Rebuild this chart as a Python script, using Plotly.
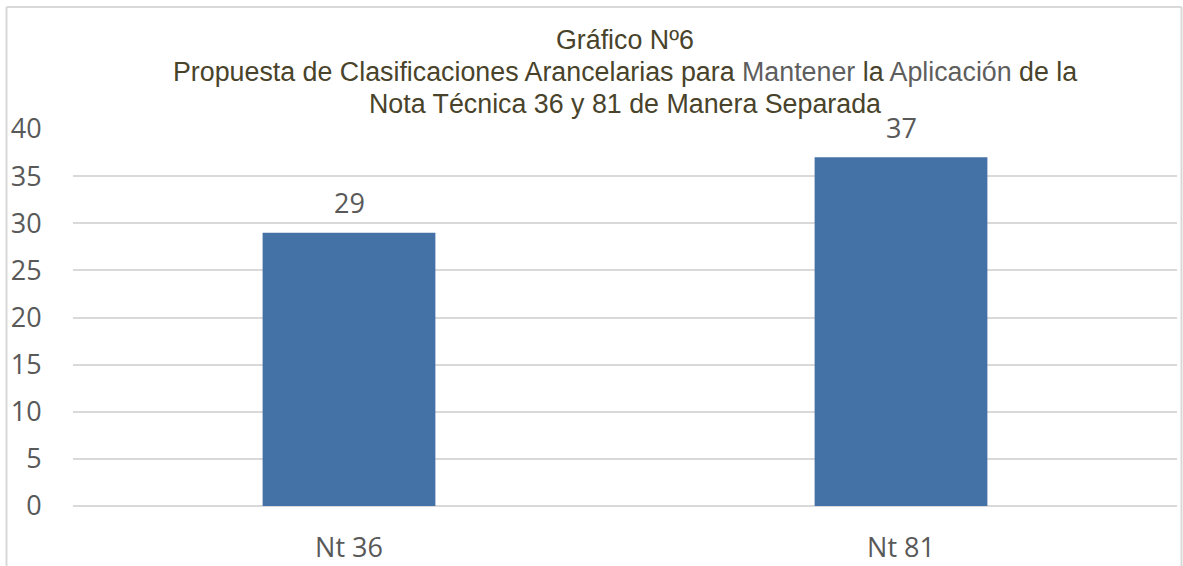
import plotly.graph_objects as go

# Datos
categorias = ["Nt 36", "Nt 81"]
valores = [29, 37]
ticks_y = [0, 5, 10, 15, 20, 25, 30, 35, 40]

lineas_titulo = [
    "Gráfico Nº6",
    "Propuesta de Clasificaciones Arancelarias para "
    "<span style='color:#5E5E5E'>Mantener</span> la "
    "<span style='color:#5E5E5E'>Aplicación</span> de la",
    "Nota Técnica 36 y 81 de Manera Separada",
]

# geometría del área de trazado (px)
ALTO_PLOT = 377.0
BASE_PLOT = 506.0


def y_paper(px):
    return (BASE_PLOT - px) / ALTO_PLOT


def x_paper(px):
    return (px - 73.5) / 1104.0


fig = go.Figure()

fig.add_trace(go.Bar(
    x=categorias,
    y=valores,
    marker=dict(color="#4572A6", line=dict(width=0)),
    width=0.313,
    showlegend=False,
    hoverinfo="skip",
))

# Etiquetas de datos
for c, v in zip(categorias, valores):
    fig.add_annotation(
        x=c, y=v, xref="x", yref="y",
        text=str(v), showarrow=False,
        yanchor="middle", yshift=30,
        font=dict(family="Open Sans", size=27, color="#595959"),
    )

# Título en tres líneas
for i, t in enumerate(lineas_titulo):
    fig.add_annotation(
        x=0.5, y=y_paper(40 + 32 * i), xref="paper", yref="paper",
        text=t, showarrow=False, xanchor="center", yanchor="middle",
        font=dict(family="Liberation Sans, Arial", size=26.8, color="#48432A"),
    )

# Marco del gráfico
gris = dict(color="#D9D9D9", width=2)
fig.add_shape(type="line", xref="paper", yref="paper",
              x0=x_paper(7), y0=y_paper(7), x1=x_paper(7), y1=y_paper(570), line=gris)
fig.add_shape(type="line", xref="paper", yref="paper",
              x0=x_paper(7), y0=y_paper(7), x1=x_paper(1182), y1=y_paper(7), line=gris)
fig.add_shape(type="line", xref="paper", yref="paper",
              x0=x_paper(1182), y0=y_paper(7), x1=x_paper(1182), y1=y_paper(570), line=gris)

fig.update_layout(
    width=1183,
    height=566,
    plot_bgcolor="white",
    paper_bgcolor="white",
    margin=dict(l=73, r=6, t=129, b=60, autoexpand=False),
    xaxis=dict(
        showgrid=False, zeroline=False, showline=False, automargin=False,
        tickfont=dict(family="Open Sans", size=27, color="#595959"),
        ticks="outside", ticklen=18, tickcolor="rgba(0,0,0,0)",
    ),
    yaxis=dict(
        range=[0, 40],
        tickvals=ticks_y, automargin=False,
        showgrid=True, gridcolor="#D9D9D9", gridwidth=2,
        zeroline=True, zerolinecolor="#D9D9D9", zerolinewidth=2,
        showline=False,
        tickfont=dict(family="Open Sans", size=27, color="#595959"),
        ticks="outside", ticklen=25, tickcolor="rgba(0,0,0,0)",
    ),
    bargap=0.687,
)

fig.write_html("out.html", config={"displayModeBar": False},
               post_script="document.body.style.margin='0';")
